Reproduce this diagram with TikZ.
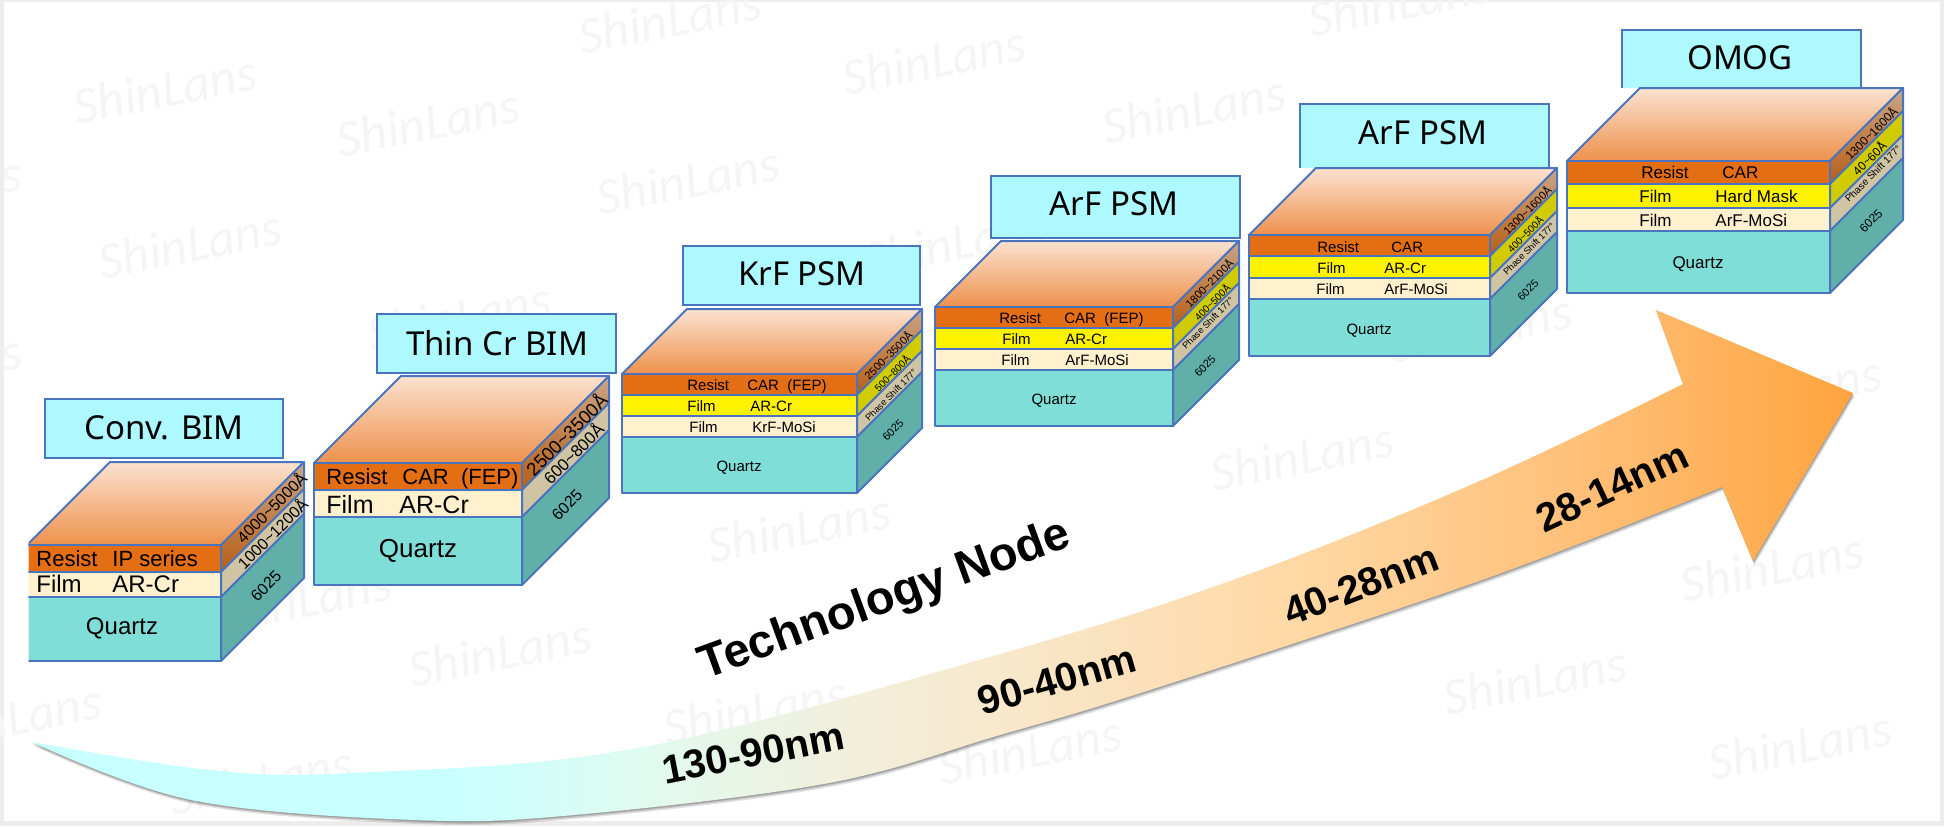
\documentclass[tikz,border=0pt]{standalone}
\usepackage{fontspec}
\setmainfont{Liberation Sans}
\newfontfamily\titlefont{Noto Sans}
\newfontfamily\markfont{Carlito}
\usetikzlibrary{calc}
\definecolor{edge}{HTML}{4A74BE}
\definecolor{sky}{HTML}{ADF9FF}
\definecolor{resist}{HTML}{E36E14}
\definecolor{cream}{HTML}{FFF1CE}
\definecolor{quartz}{HTML}{7FDFD8}
\definecolor{quartzside}{HTML}{60AFA9}
\definecolor{creamside}{HTML}{CFC4A3}
\definecolor{yellowside}{HTML}{D0CC00}
\definecolor{topback}{HTML}{FBE2D0}
\definecolor{topmid}{HTML}{F2AE7C}
\definecolor{topfront}{HTML}{EE914C}
\definecolor{sideback}{HTML}{C8A588}
\definecolor{sidefront}{HTML}{B85E14}
\definecolor{markgray}{HTML}{F5F5F5}
\definecolor{gA}{HTML}{C8FFFF}
\definecolor{gB}{HTML}{E0FBF0}
\definecolor{gC}{HTML}{F0F0DD}
\definecolor{gD}{HTML}{F8E8CC}
\definecolor{gE}{HTML}{FFD8A4}
\definecolor{gF}{HTML}{FFBE75}
\definecolor{gG}{HTML}{FFA43F}
\pgfdeclarehorizontalshading{arrowgrad}{100bp}{
 color(0bp)=(gA);
 color(36.5bp)=(gA);
 color(41.7bp)=(gB);
 color(46.9bp)=(gC);
 color(51.6bp)=(gD);
 color(59.8bp)=(gE);
 color(68bp)=(gF);
 color(75bp)=(gG);
 color(100bp)=(gG)}
\tikzset{
 layerline/.style={draw=edge,line width=1pt,line join=round},
 titlebox/.style={draw=edge,line width=1.1pt,fill=sky},
 titletext/.style={font=\titlefont\fontsize{#1}{#1}\selectfont,inner sep=0pt,anchor=center},
 front/.style={font=\fontsize{#1}{#1}\selectfont,inner sep=0pt,anchor=base west},
 frontc/.style={font=\fontsize{#1}{#1}\selectfont,inner sep=0pt,anchor=base},
 sidetext/.style={font=\fontsize{#1}{#1}\selectfont,inner sep=0pt,rotate=45,anchor=center},
 bandtext/.style={font=\bfseries\fontsize{#1}{#1}\selectfont,inner sep=0pt,anchor=center},
 wm/.style={font=\markfont\itshape\fontsize{26}{26}\selectfont,text=markgray,rotate=11,inner sep=0pt}
}
% L R d T B
\newcommand{\blocktop}[5]{
 \shade[top color=topback,middle color=topmid,bottom color=topfront] (#1,#4) -- ({#1+#3},{#4-#3}) -- ({#2+#3},{#4-#3}) -- (#2,#4) -- cycle;
 \draw[layerline] (#1,#4) -- ({#1+#3},{#4-#3}) -- ({#2+#3},{#4-#3}) -- (#2,#4) -- cycle;
}
% L R d y1 y2 front side
\newcommand{\layer}[7]{
 \filldraw[layerline,fill=#6] (#1,#4) rectangle (#2,#5);
 \filldraw[layerline,fill=#7] (#2,#4) -- ({#2+#3},{#4-#3}) -- ({#2+#3},{#5-#3}) -- (#2,#5) -- cycle;
}
\newcommand{\resistlayer}[5]{
 \filldraw[layerline,fill=resist] (#1,#4) rectangle (#2,#5);
 \shade[bottom color=sidefront,top color=sideback] (#2,#4) -- ({#2+#3},{#4-#3}) -- ({#2+#3},{#5-#3}) -- (#2,#5) -- cycle;
 \draw[layerline] (#2,#4) -- ({#2+#3},{#4-#3}) -- ({#2+#3},{#5-#3}) -- (#2,#5) -- cycle;
}
\newcommand{\arrowshape}{plot[smooth,tension=.6] coordinates {(32,742) (210,770) (351,773) (638,748) (1000,654) (1241,577) (1482,480) (1683,384)} -- (1656,310) -- (1853,393) -- (1753,561) -- (1722,487) -- plot[smooth,tension=.6] coordinates {(1722,487) (1482,580) (1150,690) (1000,735) (829,783) (574,815) (415,820) (191,800) (32,742)} -- cycle}
\begin{document}
\begin{tikzpicture}[x=0.5pt,y=-0.5pt]
\useasboundingbox (0,0) rectangle (1944,826);
\fill[black!7] (0,0) rectangle (1944,826);
\fill[white] (4,2) rectangle (1940,821);
% watermarks
\foreach \mx/\my [count=\i] in {165/89,428/122,670/19,934/60,1194/109,688/180,190/244,459/316,955/242,1302/456,799/528,500/652,755/710,1030/750,261/780,1535/680,1800/745,1772/567,1790/390,1400/2,10/718,300/600,-70/190,-70/368,1480/328}{
 \node[wm] (wm\i) at (\mx,\my) {ShinLans};
}
% arrow
\foreach \sh/\op in {3/.10,2/.14,1/.18}{
 \begin{scope}[shift={(0.5*\sh,1.3*\sh)}]
 \fill[black,opacity=\op] \arrowshape;
 \end{scope}
}
\shade[shading=arrowgrad] \arrowshape;
\node[bandtext=23.5,rotate=20] (tech) at (885,601) {Technology Node};
\node[bandtext=20,rotate=11] (n1) at (753,753) {130-90nm};
\node[bandtext=20,rotate=16] (n2) at (1057,680) {90-40nm};
\node[bandtext=20,rotate=21] (n3) at (1361,585) {40-28nm};
\node[bandtext=20,rotate=25] (n4) at (1612,487) {28-14nm};

% Block 1
\draw[titlebox] (45,399) rectangle (283,458);
\node[titletext=16.5] (t1) at (164,428) {Conv. BIM};
\begin{scope}
\clip (28.5,440) rectangle (330,680);
\blocktop{27}{221}{83}{545}{572}
\resistlayer{27}{221}{83}{545}{572}
\layer{27}{221}{83}{572}{597}{cream}{creamside}
\layer{27}{221}{83}{597}{661}{quartz}{quartzside}
\end{scope}
\node[front=11] (a1) at (36,566) {Resist};
\node[front=11] (a2) at (112,566) {IP series};
\node[front=12] (a3) at (36,592) {Film};
\node[front=12] (a4) at (112,592) {AR-Cr};
\node[frontc=12] (a5) at (122,634) {Quartz};
\node[sidetext=8] (a6) at (271,507) {4000\textasciitilde 5000Å};
\node[sidetext=8] (a7) at (272,533) {1000\textasciitilde 1200Å};
\node[sidetext=8] (a8) at (266,586) {6025};

% Block 2
\draw[titlebox] (377,314) rectangle (616,373);
\node[titletext=16.5] (t2) at (497,343) {Thin Cr BIM};
\blocktop{314}{522}{87}{463}{490}
\resistlayer{314}{522}{87}{463}{490}
\layer{314}{522}{87}{490}{517}{cream}{creamside}
\layer{314}{522}{87}{517}{585}{quartz}{quartzside}
\node[front=11] (b1) at (326,484) {Resist};
\node[front=11] (b2) at (402,484) {CAR\ \ (FEP)};
\node[front=12.5] (b3) at (326,513) {Film};
\node[front=12.5] (b4) at (399,513) {AR-Cr};
\node[frontc=13] (b5) at (418,557) {Quartz};
\node[sidetext=9.3] (b6) at (566,434) {2500\textasciitilde 3500Å};
\node[sidetext=8.4] (b7) at (573,453) {600\textasciitilde 800Å};
\node[sidetext=8] (b8) at (567,505) {6025};

% Block 3
\draw[titlebox] (683,246) rectangle (920,305);
\node[titletext=16.5] (t3) at (802,274) {KrF PSM};
\blocktop{622}{857}{65}{374}{395}
\resistlayer{622}{857}{65}{374}{395}
\layer{622}{857}{65}{395}{416}{yellow}{yellowside}
\layer{622}{857}{65}{416}{437}{cream}{creamside}
\layer{622}{857}{65}{437}{493}{quartz}{quartzside}
\node[front=7.5] (c1) at (687,390) {Resist};
\node[front=7.5] (c2) at (747,390) {CAR\ \ (FEP)};
\node[front=7.5] (c3) at (687,411) {Film};
\node[front=7.5] (c4) at (750,411) {AR-Cr};
\node[front=7.5] (c5) at (689,432) {Film};
\node[front=7.5] (c6) at (752,432) {KrF-MoSi};
\node[frontc=7.5] (c7) at (739,471) {Quartz};
\node[sidetext=5.5] (c8) at (888,355) {2500\textasciitilde 3500Å};
\node[sidetext=5] (c9) at (892,373) {500\textasciitilde 800Å};
\node[sidetext=4.6] (c10) at (891,395) {Phase Shift 177°};
\node[sidetext=5.5] (c11) at (893,430) {6025};

% Block 4
\draw[titlebox] (991,176) rectangle (1240,238);
\node[titletext=16.5] (t4) at (1114,204) {ArF PSM};
\blocktop{935}{1173}{66}{307}{328}
\resistlayer{935}{1173}{66}{307}{328}
\layer{935}{1173}{66}{328}{349}{yellow}{yellowside}
\layer{935}{1173}{66}{349}{370}{cream}{creamside}
\layer{935}{1173}{66}{370}{426}{quartz}{quartzside}
\node[front=7.5] (d1) at (999,323) {Resist};
\node[front=7.5] (d2) at (1064,323) {CAR\ \ (FEP)};
\node[front=7.5] (d3) at (1002,344) {Film};
\node[front=7.5] (d4) at (1065,344) {AR-Cr};
\node[front=7.5] (d5) at (1001,365) {Film};
\node[front=7.5] (d6) at (1065,365) {ArF-MoSi};
\node[frontc=7.5] (d7) at (1054,404) {Quartz};
\node[sidetext=5.5] (d8) at (1209,283) {1800\textasciitilde 2100Å};
\node[sidetext=5] (d9) at (1212,302) {400\textasciitilde 500Å};
\node[sidetext=4.6] (d10) at (1208,323) {Phase Shift 177°};
\node[sidetext=5.5] (d11) at (1205,366) {6025};

% Block 5
\filldraw[titlebox] (1300,168) -- (1300,104) -- (1549,104) -- (1549,168);
\node[titletext=16.5] (t5) at (1423,133) {ArF PSM};
\blocktop{1249}{1490}{67}{235}{256}
\resistlayer{1249}{1490}{67}{235}{256}
\layer{1249}{1490}{67}{256}{278}{yellow}{yellowside}
\layer{1249}{1490}{67}{278}{299}{cream}{creamside}
\layer{1249}{1490}{67}{299}{356}{quartz}{quartzside}
\node[front=7.5] (e1) at (1317,252) {Resist};
\node[front=7.5] (e2) at (1391,252) {CAR};
\node[front=7.5] (e3) at (1317,273) {Film};
\node[front=7.5] (e4) at (1384,273) {AR-Cr};
\node[front=7.5] (e5) at (1316,294) {Film};
\node[front=7.5] (e6) at (1384,294) {ArF-MoSi};
\node[frontc=7.5] (e7) at (1369,334) {Quartz};
\node[sidetext=5.5] (e8) at (1527,210) {1300\textasciitilde 1600Å};
\node[sidetext=5] (e9) at (1525,234) {400\textasciitilde 500Å};
\node[sidetext=4.6] (e10) at (1529,249) {Phase Shift 177°};
\node[sidetext=5.5] (e11) at (1528,290) {6025};

% Block 6
\filldraw[titlebox] (1622,88) -- (1622,30) -- (1861,30) -- (1861,88);
\node[titletext=16.5] (t6) at (1740,58) {OMOG};
\blocktop{1567}{1830}{73}{161}{184}
\resistlayer{1567}{1830}{73}{161}{184}
\layer{1567}{1830}{73}{184}{208}{yellow}{yellowside}
\layer{1567}{1830}{73}{208}{231}{cream}{creamside}
\layer{1567}{1830}{73}{231}{293}{quartz}{quartzside}
\node[front=8.5] (f1) at (1641,178) {Resist};
\node[front=8.5] (f2) at (1722,178) {CAR};
\node[front=8.5] (f3) at (1639,202) {Film};
\node[front=8.5] (f4) at (1715,202) {Hard Mask};
\node[front=8.5] (f5) at (1639,226) {Film};
\node[front=8.5] (f6) at (1715,226) {ArF-MoSi};
\node[frontc=8.5] (f7) at (1698,268) {Quartz};
\node[sidetext=6] (f8) at (1871,133) {1300\textasciitilde 1600Å};
\node[sidetext=6] (f9) at (1869,158) {40\textasciitilde 60Å};
\node[sidetext=5] (f10) at (1873,174) {Phase Shift 177°};
\node[sidetext=6] (f11) at (1871,221) {6025};
\end{tikzpicture}
\end{document}
